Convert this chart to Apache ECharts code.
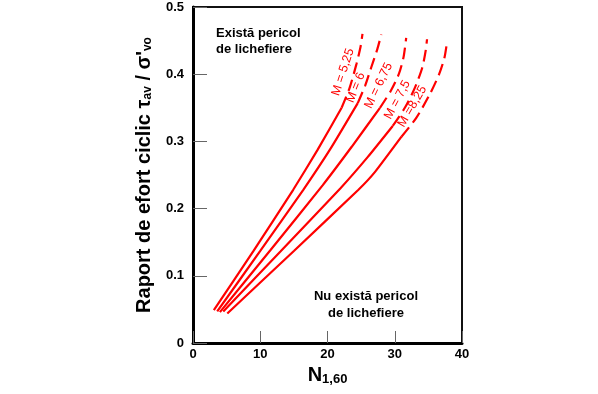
<!DOCTYPE html>
<html><head><meta charset="utf-8">
<script src="https://cdn.jsdelivr.net/npm/echarts@6/dist/echarts.min.js"></script>
<style>html,body{margin:0;padding:0;background:#fff}#c{width:598px;height:394px}</style>
</head><body><div id="c"></div>
<script>
// ---- data ----
const xTicks = [0, 10, 20, 30, 40];
const yTicks = [0, 0.1, 0.2, 0.3, 0.4, 0.5];
const magnitudes = ['M = 5,25', 'M = 6', 'M = 6,75', 'M = 7,5', 'M =8,25'];

const solidM525 = [[3.1,0.049],[9,0.137],[14.9,0.228],[18.5,0.287],[22.1,0.35]];
const solidM6   = [[3.6,0.047],[10,0.137],[16.4,0.228],[20.5,0.29],[24.5,0.357]];
const solidM675 = [[4.0,0.046],[11.5,0.138],[19.3,0.235],[23.6,0.292],[27.8,0.35]];
const solidM75  = [[4.5,0.047],[13,0.136],[21.9,0.23],[26,0.277],[29.7,0.323]];
const solidM825 = [[5.1,0.044],[15,0.137],[24.6,0.228],[27.1,0.255],[31.0,0.307]];

const dashM525 = [[22.1,0.35],[23.3,0.38],[24.3,0.415],[24.9,0.44],[25.2,0.46]];
const dashM6   = [[24.5,0.357],[25.6,0.383],[26.5,0.41],[27.4,0.437],[28.0,0.459]];
const dashM675 = [[27.8,0.35],[29.4,0.375],[30.6,0.40],[31.3,0.425],[31.7,0.454]];
const dashM75  = [[29.7,0.323],[31.5,0.35],[33.0,0.38],[34.1,0.41],[34.6,0.435],[34.8,0.452]];
const dashM825 = [[31.0,0.307],[33.2,0.335],[35.2,0.37],[36.6,0.40],[37.4,0.425],[37.8,0.45]];

// label anchors (data coords) and angles for curve captions
const captionAt = [[22.3,0.403],[24.2,0.380],[27.6,0.383],[30.4,0.362],[32.6,0.352]];
const captionAngle = [72, 68, 64, 62, 60];

const solids = [solidM525, solidM6, solidM675, solidM75, solidM825];
const dashes = [dashM525, dashM6, dashM675, dashM75, dashM825];

// ---- chart ----
const chart = echarts.init(document.getElementById('c'), null, {renderer: 'canvas'});
const FONT = 'Liberation Sans, Arial, sans-serif';
const RED = '#ff0000';

const series = [];
solids.forEach((d, i) => {
  series.push({type: 'line', data: d, symbol: 'none', smooth: 0.15, silent: true,
    lineStyle: {color: RED, width: 2.2}});
  series.push({type: 'line', data: dashes[i], symbol: 'none', smooth: 0.25, silent: true,
    lineStyle: {color: RED, width: 2.2, type: [12, 6]}});
});

chart.setOption({
  animation: false,
  backgroundColor: '#fff',
  grid: {left: 193, right: 136, top: 7, bottom: 51, show: true, borderColor: '#111', borderWidth: 2, backgroundColor: 'transparent'},
  xAxis: {
    type: 'value', min: xTicks[0], max: xTicks[xTicks.length - 1], interval: 10,
    axisLine: {show: true, lineStyle: {color: '#000', width: 3}},
    axisTick: {show: true, inside: true, length: 12, lineStyle: {color: '#666', width: 1}},
    axisLabel: {color: '#000', fontWeight: 'bold', fontSize: 13, fontFamily: FONT, margin: 5},
    splitLine: {show: false},
    name: 'N{sub|1,60}', nameLocation: 'middle', nameGap: 21,
    nameTextStyle: {color: '#000', fontWeight: 'bold', fontSize: 20, fontFamily: FONT,
      rich: {sub: {fontSize: 13, fontWeight: 'bold', fontFamily: FONT, color: '#000', verticalAlign: 'bottom', padding: [7,0,0,0]}}}
  },
  yAxis: {
    type: 'value', min: yTicks[0], max: yTicks[yTicks.length - 1], interval: 0.1,
    axisLine: {show: true, lineStyle: {color: '#000', width: 3}},
    axisTick: {show: true, inside: true, length: 14, lineStyle: {color: '#666', width: 1}},
    axisLabel: {color: '#000', fontWeight: 'bold', fontSize: 13, fontFamily: FONT, margin: 9,
      formatter: v => v === 0 ? '0' : v.toFixed(1)},
    splitLine: {show: false},
    name: 'Raport de efort ciclic {g|τ}{sub|av}{g| / σ\'}{sub|vo}', nameLocation: 'middle', nameGap: 39,
    nameTextStyle: {color: '#000', fontWeight: 'bold', fontSize: 20, fontFamily: FONT,
      rich: {
        g: {fontSize: 20, fontWeight: 'bold', fontFamily: FONT, color: '#000'},
        sub: {fontSize: 12, fontWeight: 'bold', fontFamily: FONT, color: '#000', verticalAlign: 'bottom'}
      }}
  },
  series: series
});

function place() {
  const g = [];
  captionAt.forEach((p, i) => {
    const px = chart.convertToPixel({gridIndex: 0}, p);
    g.push({type: 'text', x: px[0], y: px[1], rotation: captionAngle[i] * Math.PI / 180, silent: true,
      style: {text: magnitudes[i], fill: RED, font: '12.5px ' + FONT, align: 'center', verticalAlign: 'middle'}});
  });
  g.push({type: 'text', x: 216, y: 25, silent: true,
    style: {text: 'Există pericol\nde lichefiere', fill: '#000', font: 'bold 13px ' + FONT, lineHeight: 16, align: 'left', verticalAlign: 'top'}});
  g.push({type: 'text', x: 366, y: 288, silent: true,
    style: {text: 'Nu există pericol\nde lichefiere', fill: '#000', font: 'bold 13px ' + FONT, lineHeight: 17, align: 'center', verticalAlign: 'top'}});
  chart.setOption({graphic: g});
}
place();
</script>
</body></html>
